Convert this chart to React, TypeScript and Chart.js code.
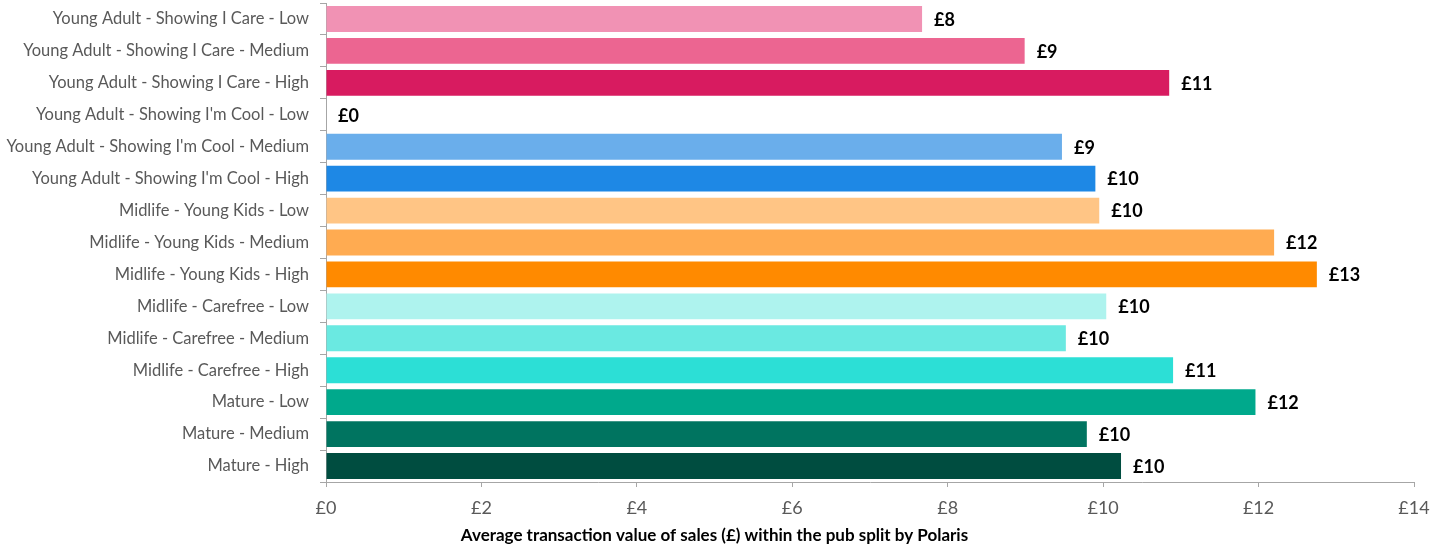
import React, { useEffect, useRef } from "react";
import { Chart, registerables } from "chart.js";
Chart.register(...registerables);

const categories = [
  "Young Adult - Showing I Care - Low",
  "Young Adult - Showing I Care - Medium",
  "Young Adult - Showing I Care - High",
  "Young Adult - Showing I'm Cool - Low",
  "Young Adult - Showing I'm Cool - Medium",
  "Young Adult - Showing I'm Cool - High",
  "Midlife - Young Kids - Low",
  "Midlife - Young Kids - Medium",
  "Midlife - Young Kids - High",
  "Midlife - Carefree - Low",
  "Midlife - Carefree - Medium",
  "Midlife - Carefree - High",
  "Mature - Low",
  "Mature - Medium",
  "Mature - High",
];

const values = [7.67, 8.99, 10.85, 0, 9.47, 9.9, 9.95, 12.2, 12.75, 10.04, 9.52, 10.9, 11.96, 9.79, 10.23];

const barColors = [
  "#F192B4", "#EC6591", "#D81B60",
  "#A8CFF3", "#6AAEEB", "#1E88E5",
  "#FFC585", "#FFAB51", "#FF8A00",
  "#AEF3EE", "#6AE9E1", "#2CDFD6",
  "#00A98C", "#007460", "#004D40",
];

const xMin = 0;
const xMax = 14;
const xStep = 2;
const axisTitle = "Average transaction value of sales (£) within the pub split by Polaris";

const FONT = "Lato, 'Open Sans', sans-serif";

const barLabelPlugin = {
  id: "barLabels",
  afterDatasetsDraw(chart: any) {
    const ctx = chart.ctx;
    const meta = chart.getDatasetMeta(0);
    ctx.save();
    ctx.font = "bold 18px " + FONT;
    ctx.fillStyle = "#000000";
    ctx.textAlign = "left";
    ctx.textBaseline = "middle";
    meta.data.forEach((bar: any, i: number) => {
      ctx.fillText("£" + Math.round(values[i]), bar.x + 12, bar.y + 1);
    });
    ctx.restore();
  },
};

const axisTitlePlugin = {
  id: "axisTitle",
  afterDraw(chart: any) {
    const ctx = chart.ctx;
    ctx.save();
    ctx.font = "bold 17px " + FONT;
    ctx.fillStyle = "#000000";
    ctx.textAlign = "center";
    ctx.textBaseline = "middle";
    ctx.fillText(axisTitle, chart.width / 2 - 11, chart.height - 12);
    ctx.restore();
  },
};

export default function App() {
  const ref = useRef<HTMLCanvasElement | null>(null);
  useEffect(() => {
    if (!ref.current) return;
    const chart = new Chart(ref.current, {
      type: "bar",
      data: {
        labels: categories,
        datasets: [
          {
            data: values,
            backgroundColor: barColors,
            borderWidth: 0,
            barPercentage: 0.81,
            categoryPercentage: 1,
          },
        ],
      },
      options: {
        indexAxis: "y",
        responsive: false,
        animation: false,
        layout: { padding: { left: 0, right: 37, top: 3, bottom: 26 } },
        plugins: { legend: { display: false }, tooltip: { enabled: false }, title: { display: false } },
        scales: {
          x: {
            min: xMin,
            max: xMax,
            ticks: {
              stepSize: xStep,
              callback: (v: any) => "£" + v,
              color: "#595959",
              font: { family: FONT, size: 18 },
              padding: 10,
            },
            grid: { drawOnChartArea: false, drawTicks: true, tickLength: 5, color: "#A6A6A6" },
            border: { display: true, color: "#A6A6A6", width: 1 },
            afterFit: (s: any) => {
              s.height = 40;
              s.paddingLeft = 0;
              s.paddingRight = 0;
            },
          },
          y: {
            ticks: {
              color: "#595959",
              font: { family: FONT, size: 16.5 },
              padding: 11,
              autoSkip: false,
            },
            grid: { drawOnChartArea: false, drawTicks: true, tickLength: 6, color: "#A6A6A6", offset: true },
            border: { display: true, color: "#A6A6A6", width: 1 },
            afterFit: (s: any) => {
              s.width = 326;
              s.paddingTop = 0;
              s.paddingBottom = 0;
            },
          },
        },
      },
      plugins: [barLabelPlugin, axisTitlePlugin],
    } as any);
    return () => chart.destroy();
  }, []);
  return (
    <div style={{ position: "fixed", left: 0, top: 0, width: 1451, height: 548, background: "#fff" }}>
      <canvas ref={ref} width={1451} height={548} />
    </div>
  );
}
